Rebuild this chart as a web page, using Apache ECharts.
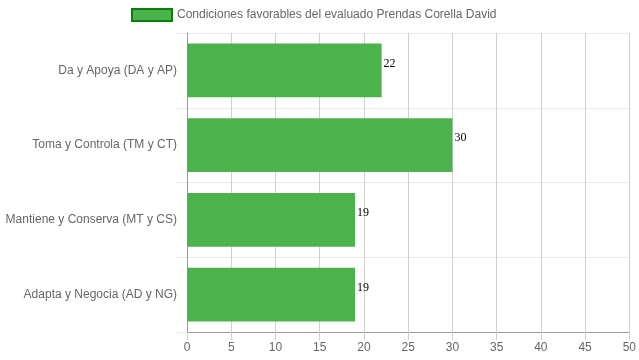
<!DOCTYPE html>
<html><head><meta charset="utf-8">
<script src="https://cdn.jsdelivr.net/npm/echarts@6/dist/echarts.min.js"></script>
<style>html,body{margin:0;padding:0;background:#fff}#c{width:639px;height:360px}</style>
</head><body><div id="c"></div>
<script>
const categories = ["Da y Apoya (DA y AP)", "Toma y Controla (TM y CT)", "Mantiene y Conserva (MT y CS)", "Adapta y Negocia (AD y NG)"];
const values = [22, 30, 19, 19];
const seriesName = "Condiciones favorables del evaluado Prendas Corella David";
const xMin = 0, xMax = 50, xStep = 5;

const chart = echarts.init(document.getElementById('c'), null, {renderer: 'canvas'});
chart.setOption({
  animation: false,
  textStyle: {fontFamily: 'Liberation Sans, Arial, sans-serif'},
  legend: {
    top: 8, left: 131, padding: 0,
    icon: 'rect',
    itemWidth: 40, itemHeight: 12,
    textStyle: {color: '#666', fontSize: 12, fontFamily: 'Liberation Sans, Arial, sans-serif'},
    itemStyle: {color: '#4cb24c', borderColor: '#0a7f0a', borderWidth: 2},
    data: [seriesName]
  },
  grid: {left: 187, right: 9, top: 33, bottom: 28, containLabel: false},
  xAxis: {
    type: 'value', min: xMin, max: xMax, interval: xStep,
    axisLine: {show: true, lineStyle: {color: '#999'}},
    axisTick: {show: true, length: 8, lineStyle: {color: '#d0d0d0'}},
    axisLabel: {color: '#666', fontSize: 12, margin: 10},
    splitLine: {show: true, lineStyle: {color: '#d0d0d0'}}
  },
  yAxis: {
    type: 'category', data: categories, inverse: true,
    axisLine: {show: true, lineStyle: {color: '#999'}},
    axisTick: {show: true, length: 11, lineStyle: {color: '#ebebeb'}},
    axisLabel: {color: '#666', fontSize: 12, margin: 10},
    splitLine: {show: true, lineStyle: {color: '#ebebeb'}}
  },
  series: [{
    name: seriesName, type: 'bar', data: values,
    barCategoryGap: '28%',
    itemStyle: {color: '#4cb24c'},
    label: {show: true, position: 'right', distance: 2, offset: [0, -7], color: '#000', fontSize: 12, fontFamily: 'Liberation Serif, Times New Roman, serif'}
  }]
});
</script></body></html>
